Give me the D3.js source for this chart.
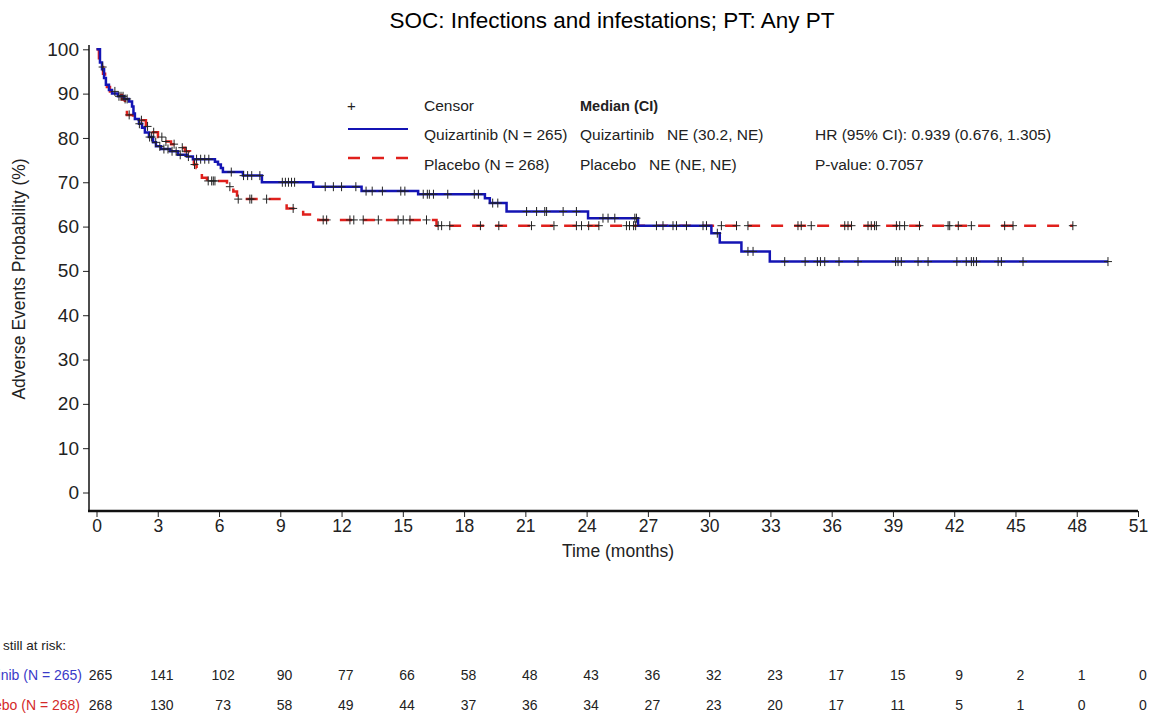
<!DOCTYPE html>
<html>
<head>
<meta charset="utf-8">
<script src="https://cdn.jsdelivr.net/npm/d3@7"></script>
<style>
  body { margin: 0; background: #fff; }
  svg { font-family: "Liberation Sans", Arial, sans-serif; }
</style>
</head>
<body>
<div id="chart"></div>
<script>
// Kaplan-Meier step data (time in months, probability in %)
var quizTimes = [0, 0.17, 0.27, 0.37, 0.46, 0.61, 0.76, 1.05, 1.35, 1.59, 1.74, 1.81, 1.88, 2.08, 2.23, 2.37, 2.57, 2.77, 2.91, 3.16, 3.6, 3.99, 4.43, 4.72, 5.8, 5.95, 6.09, 6.19, 7.17, 8.1, 10.61, 12.98, 15.75, 19.02, 19.26, 20.08, 24.07, 26.52, 30.11, 30.52, 31.58, 32.97],
    quizSurv  = [100, 97, 95.5, 93.5, 92, 90.8, 90, 89.4, 88.8, 88.2, 87.1, 85.5, 84.3, 83.2, 82.3, 81.2, 80.2, 79, 78.1, 77.5, 77, 76.2, 75.8, 75.2, 74.6, 74, 73.2, 72.3, 71.5, 70, 69, 68, 67.3, 66.4, 65.3, 63.4, 61.9, 60.2, 58.5, 56.4, 54.4, 52.1],
    quizEnd = 49.53,
    quizCensor = [1.1, 1.2, 1.3, 1.4, 1.5, 2.1, 2.6, 2.7, 2.9, 3.1, 3.3, 3.5, 3.7, 3.9, 4.1, 4.5, 4.9, 5.1, 5.3, 5.5, 6.6, 7.2, 7.4, 7.6, 8.0, 9.1, 9.25, 9.4, 9.55, 9.7, 11.2, 11.6, 12.0, 12.7, 13.2, 13.5, 14.0, 14.9, 15.1, 16.0, 16.2, 16.3, 16.5, 17.2, 18.5, 18.7, 19.4, 19.65, 21.06, 21.55, 21.95, 22.04, 22.85, 23.5, 24.8, 25.05, 25.38, 26.36, 26.44, 27.42, 27.74, 28.23, 28.4, 28.89, 29.7, 29.87, 30.4, 31.9, 32.15, 33.7, 34.7, 35.3, 35.45, 35.66, 36.36, 37.29, 39.13, 39.25, 39.41, 40.23, 40.72, 42.13, 42.59, 42.84, 42.95, 43.09, 44.15, 44.31, 45.37, 49.53];

var placTimes = [0, 0.12, 0.22, 0.32, 0.42, 0.51, 0.66, 0.95, 1.25, 1.39, 1.49, 1.79, 2.03, 2.42, 2.72, 3.01, 3.35, 3.65, 3.99, 4.33, 4.58, 4.67, 4.77, 4.9, 5.07, 5.16, 5.41, 6.39, 6.7, 6.88, 9.31, 10.12, 10.86, 16.65],
    placSurv  = [100, 98, 96, 94.5, 93, 91.5, 90.5, 89.7, 88.7, 87.5, 85.2, 84.5, 84, 82.6, 81.3, 80.2, 79.2, 78.6, 77.8, 77, 76.5, 75.5, 74, 73.2, 72, 71, 70.3, 69, 67.9, 66.2, 64.1, 62.7, 61.5, 60.2],
    placEnd = 47.81,
    placCensor = [0.3, 0.9, 1.6, 2.2, 2.5, 2.8, 3.2, 3.4, 3.8, 4.2, 4.4, 4.8, 5.47, 5.64, 5.72, 5.8, 6.53, 6.94, 7.51, 7.6, 8.33, 9.63, 11.1, 11.27, 12.41, 12.6, 13.06, 13.8, 14.77, 15.02, 15.35, 16.16, 16.73, 16.9, 17.3, 18.8, 19.7, 21.3, 22.4, 23.5, 23.75, 24.1, 24.6, 25.95, 26.1, 26.3, 26.4, 30.6, 31.34, 31.9, 34.35, 34.51, 35.0, 36.64, 36.8, 36.97, 37.78, 37.94, 38.1, 38.19, 39.17, 39.33, 39.57, 40.3, 41.7, 41.78, 42.2, 42.84, 44.47, 44.88, 47.81];

var xTicks = d3.range(0, 52, 3),
    yTicks = d3.range(0, 101, 10);

var riskTimes = d3.range(0, 52, 3),
    quizRisk = [265, 141, 102, 90, 77, 66, 58, 48, 43, 36, 32, 23, 17, 15, 9, 2, 1, 0],
    placRisk = [268, 130, 73, 58, 49, 44, 37, 36, 34, 27, 23, 20, 17, 11, 5, 1, 0, 0];

var legendLabels = ['Quizartinib (N = 265)', 'Placebo (N = 268)'],
    medianLabels = ['Quizartinib   NE (30.2, NE)', 'Placebo   NE (NE, NE)'],
    statLabels = ['HR (95% CI): 0.939 (0.676, 1.305)', 'P-value: 0.7057'];

var colors = { quiz: '#1414b4', plac: '#e0201c', quizText: '#3a3ac8', placText: '#d42a2a', censor: '#222' };

var width = 1157, height = 720;

var x = d3.scaleLinear().domain([0, 51]).range([96.5, 1138]),
    y = d3.scaleLinear().domain([0, 100]).range([492.5, 49.3]),
    xRisk = d3.scaleLinear().domain([0, 51]).range([100.5, 1143]);

var svg = d3.select('#chart').append('svg')
    .attr('width', width)
    .attr('height', height);

// title
svg.append('text')
    .attr('x', 612).attr('y', 28)
    .attr('text-anchor', 'middle')
    .attr('font-size', 22.5)
    .text('SOC: Infections and infestations; PT: Any PT');

// y axis
var yAxis = svg.append('g')
    .attr('transform', 'translate(89,0)')
    .call(d3.axisLeft(y).tickValues(yTicks).tickSize(6).tickPadding(4));
yAxis.select('.domain').remove();
yAxis.selectAll('text').attr('font-size', 19).attr('font-family', null).attr('fill', '#222');
yAxis.selectAll('line').attr('stroke', '#222');
svg.append('line')
    .attr('x1', 89).attr('x2', 89).attr('y1', 45).attr('y2', 511)
    .attr('stroke', '#111').attr('stroke-width', 1.5);

// x axis
var xAxis = svg.append('g')
    .attr('transform', 'translate(0,511)')
    .call(d3.axisBottom(x).tickValues(xTicks).tickSize(6).tickPadding(3));
xAxis.select('.domain').remove();
xAxis.selectAll('text').attr('font-size', 17.5).attr('font-family', null).attr('fill', '#222');
xAxis.selectAll('line').attr('stroke', '#222');
svg.append('line')
    .attr('x1', 88).attr('x2', 1138).attr('y1', 511).attr('y2', 511)
    .attr('stroke', '#111').attr('stroke-width', 2.5);

// axis titles
svg.append('text')
    .attr('transform', 'translate(25,279) rotate(-90)')
    .attr('text-anchor', 'middle')
    .attr('font-size', 17.5).attr('fill', '#222')
    .text('Adverse Events Probability (%)');
svg.append('text')
    .attr('x', 618).attr('y', 557)
    .attr('text-anchor', 'middle')
    .attr('font-size', 17.5).attr('fill', '#222')
    .text('Time (months)');

// curves
function stepPoints(times, surv, end) {
    var pts = times.map(function(t, i) { return [t, surv[i]] });
    pts.push([end, surv[surv.length - 1]]);
    return pts;
}
function survAt(times, surv, t) {
    var i = d3.bisectRight(times, t) - 1;
    return surv[Math.max(0, i)];
}

var line = d3.line()
    .x(function(d) { return x(d[0]) })
    .y(function(d) { return y(d[1]) })
    .curve(d3.curveStepAfter);

var plot = svg.append('g');

plot.append('path')
    .datum(stepPoints(placTimes, placSurv, placEnd))
    .attr('d', line)
    .attr('fill', 'none')
    .attr('stroke', colors.plac)
    .attr('stroke-width', 2.5)
    .attr('stroke-dasharray', '12,11');

plot.append('path')
    .datum(stepPoints(quizTimes, quizSurv, quizEnd))
    .attr('d', line)
    .attr('fill', 'none')
    .attr('stroke', colors.quiz)
    .attr('stroke-width', 2.5);

function drawCensors(times, surv, cens) {
    var g = plot.append('g').attr('stroke', colors.censor).attr('stroke-width', 1);
    cens.forEach(function(t) {
        var cx = x(t), cy = y(survAt(times, surv, t));
        g.append('line').attr('x1', cx - 4).attr('x2', cx + 4).attr('y1', cy).attr('y2', cy);
        g.append('line').attr('x1', cx).attr('x2', cx).attr('y1', cy - 4.5).attr('y2', cy + 4.5);
    });
}
drawCensors(placTimes, placSurv, placCensor);
drawCensors(quizTimes, quizSurv, quizCensor);

// legend
var leg = svg.append('g').attr('font-size', 15.5).attr('fill', '#222');
leg.append('text').attr('x', 347).attr('y', 111).attr('font-size', 15).text('+');
leg.append('text').attr('x', 424).attr('y', 111).text('Censor');
leg.append('text').attr('x', 580).attr('y', 111).attr('font-weight', 'bold').attr('font-size', 14.5).text('Median (CI)');
leg.append('line').attr('x1', 348).attr('x2', 408).attr('y1', 129).attr('y2', 129)
    .attr('stroke', colors.quiz).attr('stroke-width', 2);
leg.append('line').attr('x1', 348).attr('x2', 410).attr('y1', 158).attr('y2', 158)
    .attr('stroke', colors.plac).attr('stroke-width', 2.5).attr('stroke-dasharray', '12,12');
[0, 1].forEach(function(i) {
    var yy = 140 + i * 30;
    leg.append('text').attr('x', 424).attr('y', yy).text(legendLabels[i]);
    leg.append('text').attr('x', 580).attr('y', yy).style('white-space', 'pre').text(medianLabels[i]);
    leg.append('text').attr('x', 815).attr('y', yy).text(statLabels[i]);
});

// at-risk table (labels run off the left edge as in the source)
var risk = svg.append('g').attr('font-size', 14).attr('fill', '#222');
risk.append('text').attr('x', 66).attr('y', 650).attr('text-anchor', 'end').attr('font-size', 13.5)
    .text('Number of subjects still at risk:');
risk.append('text').attr('x', 82).attr('y', 680).attr('text-anchor', 'end')
    .attr('fill', colors.quizText).text(legendLabels[0]);
risk.append('text').attr('x', 80).attr('y', 710).attr('text-anchor', 'end')
    .attr('fill', colors.placText).text(legendLabels[1]);
risk.selectAll('.q').data(quizRisk).enter().append('text')
    .attr('x', function(d, i) { return xRisk(riskTimes[i]) })
    .attr('y', 680).attr('text-anchor', 'middle').text(function(d) { return d });
risk.selectAll('.p').data(placRisk).enter().append('text')
    .attr('x', function(d, i) { return xRisk(riskTimes[i]) })
    .attr('y', 710).attr('text-anchor', 'middle').text(function(d) { return d });
</script>
</body>
</html>
